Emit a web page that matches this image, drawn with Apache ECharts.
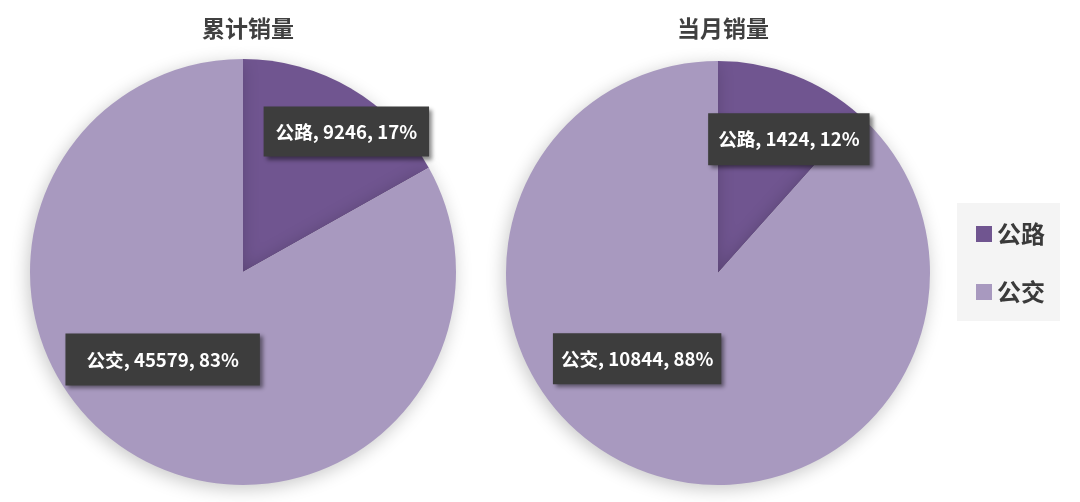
<!DOCTYPE html>
<html>
<head>
<meta charset="utf-8">
<script src="https://cdn.jsdelivr.net/npm/echarts@6/dist/echarts.min.js"></script>
<style>html,body{margin:0;padding:0;background:#fff}#main{width:1080px;height:502px}</style>
</head>
<body>
<div id="main"></div>
<script>
const categories = ['公路', '公交'];
const cumulativeValues = [9246, 45579];
const monthlyValues = [1424, 10844];
const chartTitles = ['累计销量', '当月销量'];

const colors = ['#705590', '#a899bf'];
const FONT = '"Noto Sans CJK SC", "Microsoft YaHei", sans-serif';

const labelBox = {
  show: true,
  position: 'inside',
  formatter: function (p) { return p.name + ', ' + p.value + ', ' + Math.round(p.percent) + '%'; },
  color: '#ffffff',
  fontFamily: FONT,
  fontWeight: 'bold',
  fontSize: 18.6,
  lineHeight: 20,
  backgroundColor: '#3d3d3d',
  padding: [15, 12],
  shadowColor: 'rgba(0,0,0,0.45)',
  shadowBlur: 4,
  shadowOffsetX: 3,
  shadowOffsetY: 3
};

function makeData(values, styles) {
  return categories.map(function (c, i) {
    return { name: c, value: values[i], label: styles[i] };
  });
}

const pieStyle = {
  shadowBlur: 18,
  shadowOffsetX: -2,
  shadowOffsetY: 4,
  shadowColor: 'rgba(0,0,0,0.22)'
};

const option = {
  backgroundColor: '#ffffff',
  color: colors,
  title: [
    { text: chartTitles[0], left: 243, top: 12, textAlign: 'center',
      textStyle: { fontFamily: FONT, fontSize: 23, fontWeight: 'bold', color: '#404040' } },
    { text: chartTitles[1], left: 718, top: 12, textAlign: 'center',
      textStyle: { fontFamily: FONT, fontSize: 23, fontWeight: 'bold', color: '#404040' } }
  ],
  legend: {
    orient: 'vertical',
    left: 957,
    top: 203,
    width: 80,
    data: categories,
    icon: 'rect',
    itemWidth: 16,
    itemHeight: 16,
    itemGap: 34,
    padding: [19, 15, 17, 19],
    backgroundColor: '#f4f4f4',
    textStyle: { fontFamily: FONT, fontSize: 24, fontWeight: 'bold', color: '#3a3a3a' }
  },
  series: [
    {
      type: 'pie',
      center: [243, 272],
      radius: 213,
      startAngle: 90,
      clockwise: true,
      silent: true,
      labelLine: { show: false },
      label: labelBox,
      itemStyle: pieStyle,
      data: makeData(cumulativeValues, [
        { offset: [48, -46], padding: [15, 12] },
        { offset: [-25, -7], padding: [16, 21] }
      ])
    },
    {
      type: 'pie',
      center: [718, 273],
      radius: 212,
      startAngle: 90,
      clockwise: true,
      silent: true,
      labelLine: { show: false },
      label: labelBox,
      itemStyle: pieStyle,
      data: makeData(monthlyValues, [
        { offset: [32, -32], padding: [16, 10] },
        { offset: [-42, -16], padding: [15.5, 8] }
      ])
    }
  ]
};

const chart = echarts.init(document.getElementById('main'), null, { renderer: 'canvas' });
chart.setOption(option);
</script>
</body>
</html>
